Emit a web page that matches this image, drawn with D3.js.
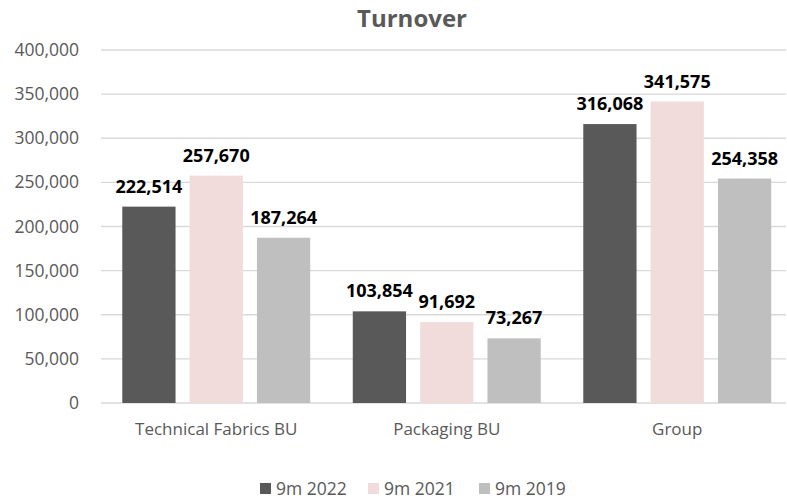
<!DOCTYPE html>
<html>
<head>
<meta charset="utf-8">
<script src="https://cdn.jsdelivr.net/npm/d3@7"></script>
<style>
  html, body { margin: 0; padding: 0; background: #ffffff; }
  svg { display: block; font-family: "Open Sans", "Noto Sans", sans-serif; }
</style>
</head>
<body>
<svg id="chart" width="787" height="501"></svg>
<script>
const categories = ["Technical Fabrics BU", "Packaging BU", "Group"];
const seriesNames = ["9m 2022", "9m 2021", "9m 2019"];
const values2022 = [222514, 103854, 316068];
const values2021 = [257670, 91692, 341575];
const values2019 = [187264, 73267, 254358];
const yTicks = [0, 50000, 100000, 150000, 200000, 250000, 300000, 350000, 400000];
const colors = ["#595959", "#f2dcdb", "#bfbfbf"];

const seriesValues = [values2022, values2021, values2019];
const data = categories.map((c, i) => ({
  category: c,
  values: seriesNames.map((s, j) => ({ series: s, value: seriesValues[j][i] }))
}));

const svg = d3.select("#chart");
const plotLeft = 101, plotRight = 792.5, plotTop = 50, plotBottom = 403;

const x0 = d3.scaleBand().domain(categories).range([plotLeft, plotRight]).padding(0);
const x1 = d3.scaleBand().domain(seriesNames).range([0, x0.bandwidth()])
  .paddingInner(0.209).paddingOuter(0.316);
const y = d3.scaleLinear().domain([0, 400000]).range([plotBottom, plotTop]);
const color = d3.scaleOrdinal().domain(seriesNames).range(colors);
const fmt = d3.format(",");

// Title
svg.append("text")
  .attr("x", 412).attr("y", 27)
  .attr("text-anchor", "middle")
  .attr("font-size", 24).attr("font-weight", "bold")
  .attr("fill", "#595959")
  .text("Turnover");

// Gridlines
svg.append("g")
  .selectAll("line")
  .data(yTicks)
  .join("line")
  .attr("x1", plotLeft).attr("x2", 786)
  .attr("y1", d => y(d)).attr("y2", d => y(d))
  .attr("stroke", "#d9d9d9").attr("stroke-width", 1.3);

// Y axis labels
const yAxis = d3.axisLeft(y).tickValues(yTicks).tickFormat(fmt).tickSize(0).tickPadding(0);
const yg = svg.append("g").attr("transform", `translate(${79},0)`).call(yAxis);
yg.select(".domain").remove();
yg.selectAll("text")
  .attr("font-size", 17.5).attr("fill", "#595959")
  .attr("font-family", "'Open Sans', 'Noto Sans', sans-serif");

// X axis labels
const xAxis = d3.axisBottom(x0).tickSize(0).tickPadding(0);
const xg = svg.append("g").attr("transform", `translate(0,${423})`).call(xAxis);
xg.select(".domain").remove();
xg.selectAll("text")
  .attr("font-size", 17).attr("fill", "#595959")
  .attr("font-family", "'Open Sans', 'Noto Sans', sans-serif");

// Bars
const groups = svg.append("g")
  .selectAll("g")
  .data(data)
  .join("g")
  .attr("transform", d => `translate(${x0(d.category)},0)`);

groups.selectAll("rect")
  .data(d => d.values)
  .join("rect")
  .attr("x", d => x1(d.series))
  .attr("y", d => y(d.value))
  .attr("width", x1.bandwidth())
  .attr("height", d => y(0) - y(d.value))
  .attr("fill", d => color(d.series));

groups.selectAll("text")
  .data(d => d.values)
  .join("text")
  .attr("x", d => x1(d.series) + x1.bandwidth() / 2)
  .attr("y", d => y(d.value) - 14)
  .attr("text-anchor", "middle")
  .attr("font-size", 18).attr("font-weight", "bold")
  .attr("fill", "#000000")
  .text(d => fmt(d.value));

// Legend
const legendX = [260, 368, 479];
const legend = svg.append("g")
  .selectAll("g")
  .data(seriesNames)
  .join("g")
  .attr("transform", (d, i) => `translate(${legendX[i]},${483})`);
legend.append("rect")
  .attr("width", 11).attr("height", 11)
  .attr("fill", d => color(d));
legend.append("text")
  .attr("x", 16).attr("y", 12)
  .attr("font-size", 17.5).attr("fill", "#595959")
  .text(d => d);
</script>
</body>
</html>
